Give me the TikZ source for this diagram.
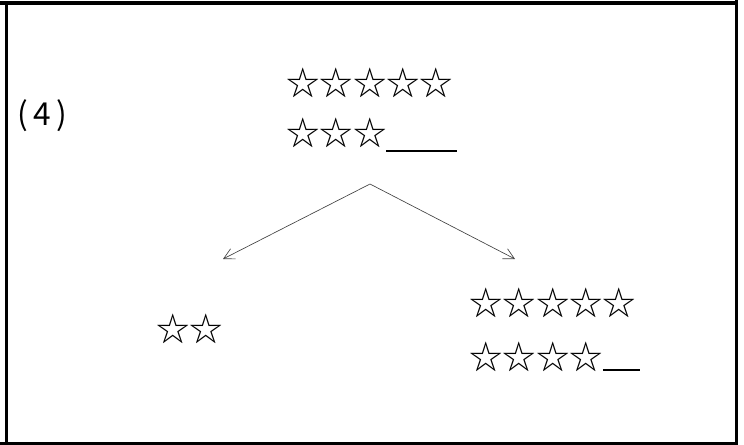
\documentclass[tikz,border=0pt]{standalone}
\usepackage{fontspec}
\setmainfont{DejaVu Sans}
\newfontfamily\starfont{Noto Sans CJK SC}
\usetikzlibrary{positioning,arrows.meta}

\tikzset{
  starrow/.style={font=\starfont\fontsize{28.5}{34}\selectfont,inner sep=0pt,anchor=base west},
  frameline/.style={line width=2.6pt},
  splitarrow/.style={draw=black!75,line width=0.55pt,
    -{Straight Barb[length=3.2mm,width=3.4mm]}}
}
% answer gap: length, drop below baseline
\newcommand{\blank}[2]{\rule[-#2]{#1}{1.3pt}}

\begin{document}
\begin{tikzpicture}[x=0.03cm,y=-0.03cm]
  \useasboundingbox (0,0) rectangle (744,445);
  % cell frame
  \draw[frameline] (0,3) -- (737,3);
  \draw[frameline] (6.5,3) -- (6.5,443);
  \draw[frameline] (736.5,0) -- (736.5,444);
  \draw[frameline] (0,443.5) -- (738,443.5);

  \node[font=\starfont\fontsize{27}{30}\selectfont,inner sep=0pt,anchor=base west]
    (label) at (17,125) {(\,4\,)};

  % whole
  \node[starrow] (whole1) at (286,95) {☆☆☆☆☆};
  \node[starrow] (whole2) at (286,145) {☆☆☆\blank{2.1em}{0.2em}};

  % split
  \coordinate (apex) at (370,184);
  \coordinate (lefttip) at (223,259);
  \coordinate (righttip) at (515,259);
  \draw[splitarrow] (apex) -- (lefttip);
  \draw[splitarrow] (apex) -- (righttip);

  \node[starrow] (part) at (156,341) {☆☆};
  \node[starrow] (rest1) at (469,315) {☆☆☆☆☆};
  \node[starrow] (rest2) at (469,369) {☆☆☆☆\blank{1.1em}{0.06em}};
\end{tikzpicture}
\end{document}
